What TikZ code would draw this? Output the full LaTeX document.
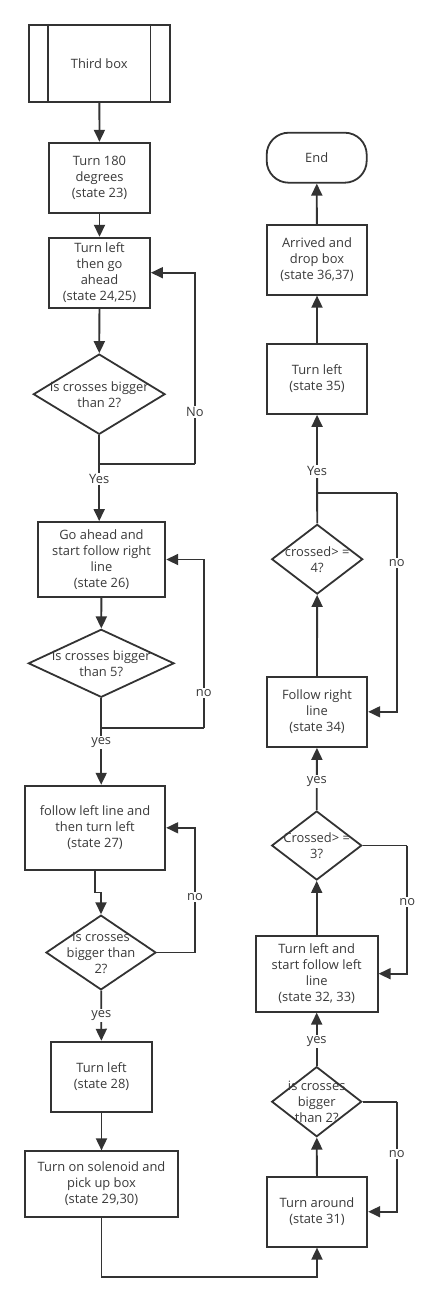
\documentclass[tikz,border=0pt]{standalone}
\usepackage{fontspec}
\setmainfont{Open Sans}
\usetikzlibrary{shapes.geometric,arrows.meta}
\definecolor{ink}{HTML}{333333}
\definecolor{txtgray}{HTML}{3A3A3A}
\newcommand{\chartfont}{\fontsize{12.9}{16}\selectfont}

\begin{document}
\begin{tikzpicture}[x=1pt, y=-1pt,
    proc/.style 2 args = {draw=ink, line width=1.8pt, fill=white, minimum width=#1, minimum height=#2, inner sep=0pt, align=center, font=\chartfont, text=txtgray},
    dec/.style 2 args = {diamond, draw=ink, line width=1.8pt, minimum width=#1, minimum height=#2, inner sep=0pt},
    dtext/.style = {align=center, font=\chartfont, text=txtgray, inner sep=0pt},
    arr/.style = {draw=ink, line width=1.8pt, -{Triangle[length=12pt,width=11pt]}},
    line/.style = {draw=ink, line width=1.8pt},
    lbl/.style = {fill=white, inner sep=1.5pt, font=\chartfont, text=txtgray}]
    \useasboundingbox (0,0) rectangle (433,1302);
    % left column
    \node[proc={141.3}{77}] (third) at (99.3,63.2) {Third box};
    \draw[line] ([xshift=20.3pt]third.north west) -- ([xshift=20.3pt]third.south west);
    \draw[line] ([xshift=-20.3pt]third.north east) -- ([xshift=-20.3pt]third.south east);
    \node[proc={101}{70}] (turnhalf) at (99.5,177.7) {Turn 180\\degrees\\(state 23)};
    \node[proc={101}{70}] (turnleft) at (99.5,272.7) {Turn left\\then go\\ahead\\(state 24,25)};
    \node[dec={131.7}{80.3}] (dcross) at (99.2,394.2) {};
    \node[dtext] (dcrosst) at (dcross) {Is crosses bigger\\than 2?};
    \node[proc={127.6}{75}] (goahead) at (101.5,559.5) {Go ahead and\\start follow right\\line\\(state 26)};
    \node[dec={145.7}{68}] (dfive) at (101.2,663.3) {};
    \node[dtext] (dfivet) at (dfive) {Is crosses bigger\\than 5?};
    \node[proc={140.6}{84.3}] (followleft) at (95,827.8) {follow left line and\\then turn left\\(state 27)};
    \node[dec={110}{74.7}] (dtwo) at (101,952.5) {};
    \node[dtext] (dtwot) at (dtwo) {Is crosses\\bigger than\\2?};
    \node[proc={101}{70.3}] (turnleftb) at (101.5,1076.8) {Turn left\\(state 28)};
    \node[proc={153.6}{65.4}] (solenoid) at (101.5,1184) {Turn on solenoid and\\pick up box\\(state 29,30)};
    % right column
    \node[proc={100.6}{70}] (around) at (317,1211.7) {Turn around\\(state 31)};
    \node[dec={90}{70}] (dback) at (316.7,1101.7) {};
    \node[dtext] (dbackt) at (dback) {is crosses\\bigger\\than 2?};
    \node[proc={122}{76}] (startleft) at (316.7,973.7) {Turn left and\\start follow left\\line\\(state 32, 33)};
    \node[dec={90}{69}] (dthree) at (316.7,845.5) {};
    \node[dtext] (dthreet) at (dthree) {Crossed> =\\3?};
    \node[proc={100.6}{70.3}] (followright) at (317,711.8) {Follow right\\line\\(state 34)};
    \node[dec={91}{69.7}] (dfour) at (317.2,559.2) {};
    \node[dtext] (dfourt) at (dfour) {crossed> =\\4?};
    \node[proc={100.6}{70.3}] (turnlastleft) at (317,378.8) {Turn left\\(state 35)};
    \node[proc={100.6}{70}] (arrived) at (317,259.7) {Arrived and\\drop box\\(state 36,37)};
    \node[proc={100}{50}, rounded corners=22pt] (finish) at (316.7,157.7) {End};
    % bends
    \coordinate (jone) at (99.2,464.3);
    \coordinate (rone) at (195,464.3);
    \coordinate (jfive) at (101.2,727.7);
    \coordinate (rfive) at (203.7,727.7);
    \coordinate (rtwo) at (195,952.5);
    \coordinate (bottom) at (101.5,1276.7);
    \coordinate (rback) at (396.7,1101.7);
    \coordinate (rthree) at (407.3,845.5);
    \coordinate (jfour) at (317.2,493.3);
    \coordinate (rfour) at (396.7,493.3);
    % connectors
    \draw[arr] (third) -- (turnhalf);
    \draw[arr] (turnhalf) -- (turnleft);
    \draw[arr] (turnleft) -- (dcross);
    \draw[line] (dcross.south) -- (jone) -- (rone);
    \draw[arr] (rone) |- (turnleft.east);
    \draw[arr] (jone) -- node[lbl, pos=0.26] (yesone) {Yes} (jone |- goahead.north);
    \node[lbl] (noone) at (195,411.7) {No};
    \draw[arr] (goahead) -- (dfive);
    \draw[line] (dfive.south) -- (jfive) -- (rfive);
    \draw[arr] (rfive) |- (goahead.east);
    \draw[arr] (jfive) -- node[lbl, pos=0.26] (yesfive) {yes} (jfive |- followleft.north);
    \node[lbl] (nofive) at (203.7,692.7) {no};
    \draw[arr] (followleft.south) -- ++(0,21.7) -| (dtwo.north);
    \draw[line] (dtwo.east) -- (rtwo);
    \draw[arr] (rtwo) |- (followleft.east);
    \node[lbl] (notwo) at (195,896.7) {no};
    \draw[arr] (dtwo) -- node[lbl] (yestwo) {yes} (turnleftb);
    \draw[arr] (turnleftb) -- (solenoid);
    \draw[arr] (solenoid.south) -- (bottom) -| (around.south);
    \draw[arr] (around) -- (dback);
    \draw[line] (dback.east) -- (rback);
    \draw[arr] (rback) |- (around.east);
    \node[lbl] (noback) at (396.7,1154.3) {no};
    \draw[arr] (dback) -- node[lbl, pos=0.45] (yesback) {yes} (startleft);
    \draw[arr] (startleft) -- (dthree);
    \draw[line] (dthree.east) -- (rthree);
    \draw[arr] (rthree) |- (startleft.east);
    \node[lbl] (nothree) at (407.3,901.7) {no};
    \draw[arr] (dthree) -- node[lbl, pos=0.46] (yesthree) {yes} (followright);
    \draw[arr] (followright) -- (dfour);
    \draw[line] (jfour) -- (rfour);
    \draw[arr] (rfour) |- (followright.east);
    \node[lbl] (nofour) at (396.7,562.7) {no};
    \draw[arr] (dfour) -- node[lbl, pos=0.48] (yesfour) {Yes} (turnlastleft);
    \draw[arr] (turnlastleft) -- (arrived);
    \draw[arr] (arrived) -- (finish);
\end{tikzpicture}
\end{document}
